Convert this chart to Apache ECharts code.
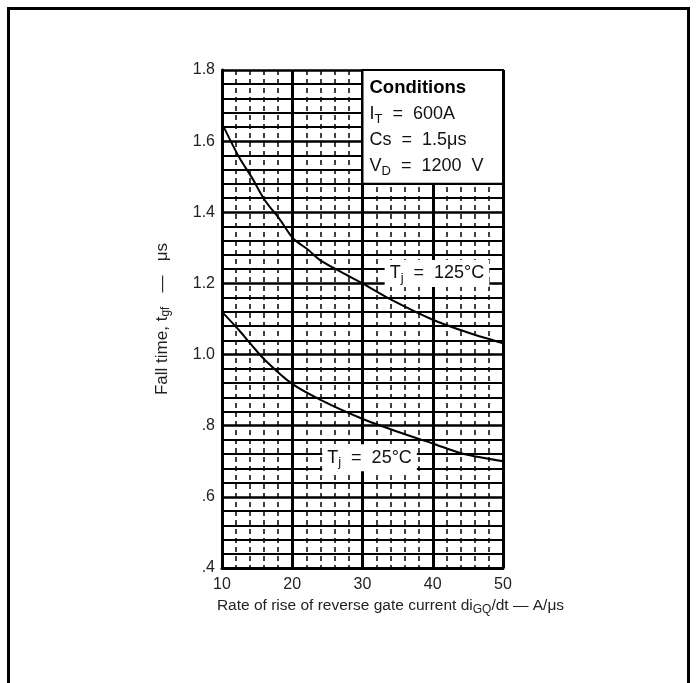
<!DOCTYPE html>
<html><head><meta charset="utf-8">
<script src="https://cdn.jsdelivr.net/npm/echarts@6/dist/echarts.min.js"></script>
<style>
html,body{margin:0;padding:0;background:#fff;overflow:hidden;width:696px;height:683px;}
#frame{position:absolute;left:7px;top:7px;width:677px;height:700px;border:3px solid #000;border-bottom:none;}
#c{position:absolute;left:0;top:0;width:696px;height:683px;}
</style></head>
<body><div id="frame"></div><div id="c"></div>
<script>
// Data
const x125 = [10, 12.4, 14.3, 16.1, 18.3, 20.1, 22.3, 24, 27, 30, 34, 40, 45, 50];
const y125 = [1.65, 1.556, 1.496, 1.434, 1.378, 1.327, 1.294, 1.265, 1.232, 1.20, 1.155, 1.098, 1.062, 1.032];
const x25 = [10, 12.4, 14.2, 16.1, 19.9, 24.1, 29.8, 35, 40, 44.3, 50];
const y25 = [1.12, 1.069, 1.027, 0.985, 0.919, 0.872, 0.821, 0.783, 0.750, 0.721, 0.70];
const xTicks = [10, 20, 30, 40, 50];
const yTicks = [0.4, 0.6, 0.8, 1.0, 1.2, 1.4, 1.6, 1.8];
const condBox = [[30, 1.8], [50, 1.48]];
const condLines = ['{b|Conditions}', '{t|I}{s|T}{t|  =  600A}', '{t|Cs  =  1.5μs}', '{t|V}{s|D}{t|  =  1200  V}'];
const label125 = { x: 40.6, y: 1.228, text: 'T{s|j}  =  125°C' };
const label25 = { x: 31.0, y: 0.71, text: 'T{s|j}  =  25°C' };

const FONT = '"Liberation Sans", Arial, sans-serif';
const toPairs = (xs, ys) => xs.map((x, i) => [x, ys[i]]);
const subRich = {
  t: { fontSize: 18, fontFamily: FONT, color: '#111' },
  s: { fontSize: 13, fontFamily: FONT, color: '#111', padding: [10, 0, 0, 0] },
  b: { fontSize: 18.5, fontWeight: 'bold', fontFamily: FONT, color: '#000' }
};
const tjRich = {
  s: { fontSize: 13, fontFamily: FONT, color: '#111', padding: [10, 0, 0, 0] }
};

const chart = echarts.init(document.getElementById('c'), null, { renderer: 'canvas' });
chart.setOption({
  animation: false,
  grid: { left: 222, right: 193, top: 70, bottom: 115 },
  xAxis: {
    type: 'value', min: xTicks[0], max: xTicks[xTicks.length - 1], interval: 10,
    name: 'Rate of rise of reverse gate current di{s|GQ}/dt — A/μs',
    nameLocation: 'middle', nameGap: 27,
    nameTextStyle: { fontSize: 15.5, fontFamily: FONT, color: '#222', padding: [0, 0, 0, 56],
      rich: { s: { fontSize: 12, fontFamily: FONT, color: '#222', padding: [7, 0, 0, 0] } } },
    axisLine: { show: true, lineStyle: { color: '#000', width: 3 } },
    axisTick: { show: false },
    axisLabel: { fontSize: 16, fontFamily: FONT, color: '#222', margin: 9 },
    splitLine: { show: true, lineStyle: { color: '#000', width: 3 } },
    minorTick: { show: false, splitNumber: 5 },
    minorSplitLine: { show: true, lineStyle: { color: '#000', width: 1.5, type: [5, 4] } }
  },
  yAxis: {
    type: 'value', min: yTicks[0], max: yTicks[yTicks.length - 1], interval: 0.2,
    name: 'Fall time, t{s|gf}   —   μs',
    nameLocation: 'middle', nameGap: 50,
    nameTextStyle: { fontSize: 17, fontFamily: FONT, color: '#222',
      rich: { s: { fontSize: 12, fontFamily: FONT, color: '#222', padding: [7, 0, 0, 0] } } },
    axisLine: { show: true, lineStyle: { color: '#000', width: 3 } },
    axisTick: { show: false },
    axisLabel: { fontSize: 16, fontFamily: FONT, color: '#222', margin: 7,
      formatter: v => (v < 0.99 ? v.toFixed(1).replace(/^0/, '') : v.toFixed(1)) },
    splitLine: { show: true, lineStyle: { color: '#000', width: 2.5 } },
    minorTick: { show: false, splitNumber: 5 },
    minorSplitLine: { show: true, lineStyle: { color: '#000', width: 2 } }
  },
  series: [
    {
      type: 'line', data: toPairs(x125, y125), smooth: 0.3, symbol: 'none',
      lineStyle: { color: '#000', width: 2 }, z: 5,
      markArea: {
        silent: true,
        itemStyle: { color: '#fff', borderColor: '#000', borderWidth: 2 },
        label: { show: true, position: 'insideTopLeft', distance: 6, lineHeight: 26,
          padding: [0, 0, 0, 2],
          formatter: condLines.join('\n'), rich: subRich },
        data: [[{ coord: condBox[0] }, { coord: condBox[1] }]]
      },
      markPoint: {
        silent: true, symbol: 'rect', symbolSize: 1, itemStyle: { color: 'rgba(0,0,0,0)' },
        label: { show: true, position: 'inside', formatter: label125.text, backgroundColor: '#fff',
          padding: [2, 5, 2, 5], rich: tjRich,
          fontSize: 18, fontFamily: FONT, color: '#111' },
        data: [{ coord: [label125.x, label125.y] }]
      }
    },
    {
      type: 'line', data: toPairs(x25, y25), smooth: 0.3, symbol: 'none',
      lineStyle: { color: '#000', width: 2 }, z: 5,
      markPoint: {
        silent: true, symbol: 'rect', symbolSize: 1, itemStyle: { color: 'rgba(0,0,0,0)' },
        label: { show: true, position: 'inside', formatter: label25.text, backgroundColor: '#fff',
          padding: [2, 5, 2, 5], rich: tjRich,
          fontSize: 18, fontFamily: FONT, color: '#111' },
        data: [{ coord: [label25.x, label25.y] }]
      }
    }
  ]
});
</script>
</body></html>
